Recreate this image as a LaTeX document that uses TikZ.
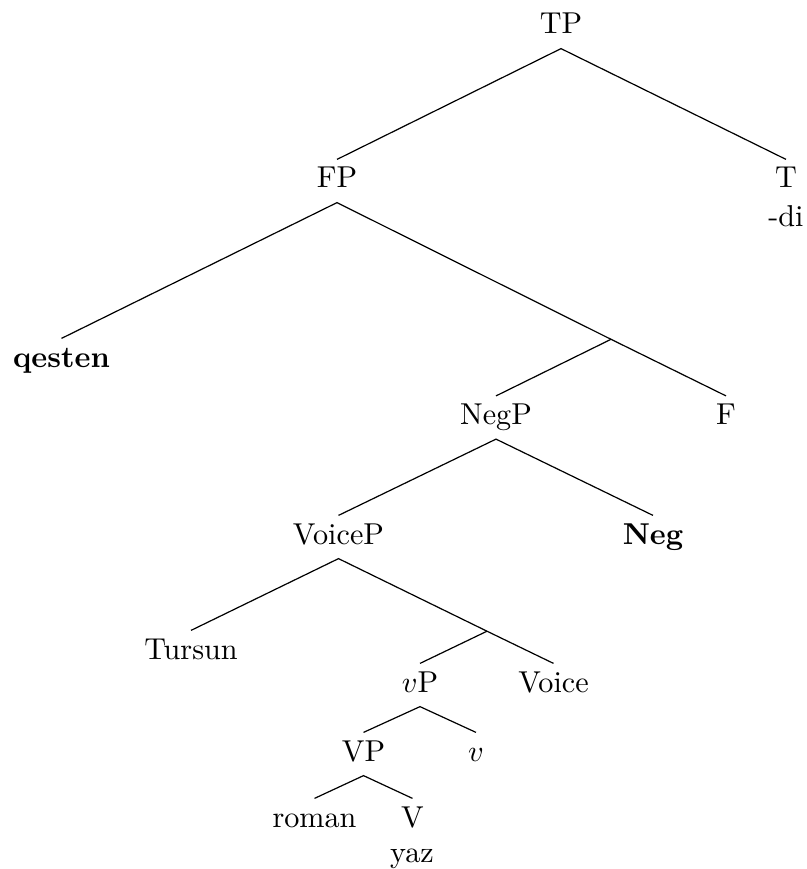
\documentclass[tikz,border=0pt]{standalone}
\begin{document}
\begin{tikzpicture}[x=0.3311pt,y=-0.3311pt,
  lbl/.style={anchor=base,inner sep=0pt,text height=9.27pt,text depth=4.64pt},
  plain/.style={anchor=base,inner sep=0pt},
  branch/.style={line width=0.4pt}]
\useasboundingbox (0,0) rectangle (806,869);
% nodes
\node[lbl] (TP) at (561,34) {TP};
\node[lbl] (FP) at (337,188) {FP};
\node[lbl] (T) at (786,188) {T};
\node[plain] (di) at (786,226) {-di};
\node[lbl] (qesten) at (61.5,367) {\textbf{qesten}};
\coordinate (Fbar) at (611,339.3);
\node[lbl] (NegP) at (496,424.5) {NegP};
\node[lbl] (F) at (726,424.5) {F};
\node[lbl] (VoiceP) at (338.5,544) {VoiceP};
\node[lbl] (Neg) at (653,544) {\textbf{Neg}};
\node[lbl] (Tursun) at (191,659) {Tursun};
\coordinate (Voicebar) at (487,631.2);
\node[lbl] (vP) at (420,692) {$v$P};
\node[lbl] (Voice) at (553.5,692) {Voice};
\node[lbl] (VP) at (363.5,761) {VP};
\node[lbl] (v) at (476,761) {$v$};
\node[lbl] (roman) at (314.5,827) {roman};
\node[lbl] (V) at (412.5,827) {V};
\node[plain] (yaz) at (412,862) {yaz};
% branches
\draw[branch] (FP.north) -- (TP.south) -- (T.north);
\draw[branch] (qesten.north) -- (FP.south) -- (Fbar) -- (F.north);
\draw[branch] (Fbar) -- (NegP.north);
\draw[branch] (VoiceP.north) -- (NegP.south) -- (Neg.north);
\draw[branch] (Tursun.north) -- (VoiceP.south) -- (Voicebar) -- (Voice.north);
\draw[branch] (Voicebar) -- (vP.north);
\draw[branch] (VP.north) -- (vP.south) -- (v.north);
\draw[branch] (roman.north) -- (VP.south) -- (V.north);
\end{tikzpicture}
\end{document}
